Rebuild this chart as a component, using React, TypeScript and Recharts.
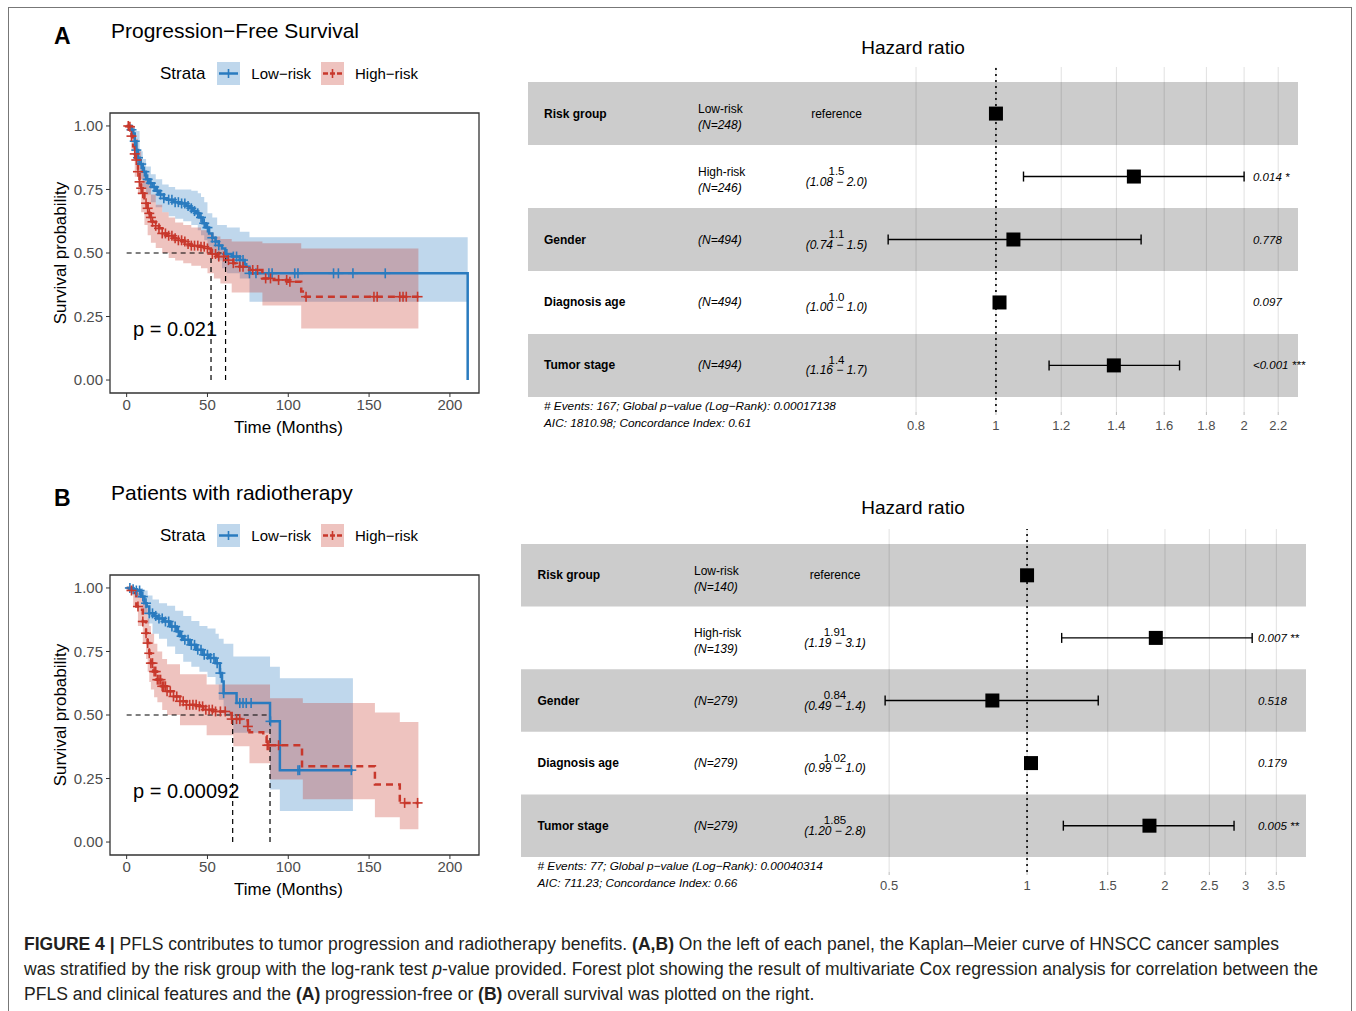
import React from "react";
import {
  ComposedChart,
  Line,
  Area,
  Scatter,
  XAxis,
  YAxis,
  ReferenceLine,
  ReferenceArea,
  ReferenceDot,
  ErrorBar,
} from "recharts";

const FONT = "'Liberation Sans', Arial, Helvetica, sans-serif";
const BLUE = "#2a7bbf";
const RED = "#c8382c";

// ---- Kaplan-Meier, panel A (progression-free survival) ----
// curves: [months, survival]
const pfsLow = [
  [0, 1], [3, 0.985], [4, 0.97], [5, 0.94], [6, 0.905], [7, 0.875], [8, 0.85], [10, 0.82],
  [12, 0.79], [14, 0.775], [16, 0.76], [18, 0.745], [20, 0.73], [23, 0.715], [25, 0.71],
  [29, 0.7], [33, 0.695], [37, 0.685], [39, 0.676], [41, 0.665], [43, 0.656], [45, 0.64],
  [47, 0.617], [49, 0.6], [51, 0.577], [53, 0.56], [55, 0.545], [57, 0.53], [59, 0.518],
  [61, 0.496], [65, 0.486], [70, 0.472], [73, 0.456], [74, 0.446], [76, 0.42], [211, 0],
];
const pfsHigh = [
  [0, 1], [2, 0.997], [3, 0.96], [4, 0.92], [5, 0.89], [6, 0.866], [7, 0.82], [8, 0.78],
  [9, 0.755], [10, 0.735], [11, 0.715], [12, 0.696], [13, 0.676], [14, 0.656], [15, 0.64],
  [16, 0.623], [18, 0.607], [20, 0.597], [22, 0.577], [25, 0.568], [29, 0.558], [32, 0.55],
  [35, 0.545], [38, 0.535], [40, 0.529], [45, 0.525], [50, 0.518], [52, 0.496], [56, 0.486],
  [62, 0.472], [66, 0.46], [70, 0.446], [76, 0.433], [84, 0.4], [91, 0.394], [100, 0.387],
  [108, 0.348], [109, 0.328], [180.5, 0.328],
];
// confidence bands: [months, lower, upper]
const pfsLowBand = [
  [0, 1, 1], [3, 0.95, 1], [5, 0.88, 0.98], [8, 0.79, 0.9], [10, 0.76, 0.87], [12, 0.73, 0.84],
  [15, 0.7, 0.81], [18, 0.68, 0.79], [22, 0.66, 0.77], [26, 0.645, 0.76], [30, 0.635, 0.75],
  [35, 0.625, 0.75], [40, 0.61, 0.745], [44, 0.59, 0.735], [46, 0.57, 0.72], [48, 0.55, 0.7],
  [50, 0.525, 0.656], [53, 0.5, 0.64], [56, 0.47, 0.61], [59, 0.44, 0.61], [62, 0.42, 0.6],
  [70, 0.4, 0.584], [76, 0.308, 0.562], [211, 0.308, 0.562],
];
const pfsHighBand = [
  [0, 1, 1], [3, 0.9, 1], [5, 0.8, 0.95], [7, 0.73, 0.9], [9, 0.66, 0.84], [11, 0.61, 0.8],
  [13, 0.57, 0.77], [15, 0.54, 0.73], [18, 0.52, 0.69], [22, 0.5, 0.66], [26, 0.48, 0.64],
  [30, 0.47, 0.62], [35, 0.46, 0.61], [40, 0.45, 0.6], [46, 0.44, 0.59], [50, 0.42, 0.58],
  [54, 0.4, 0.565], [58, 0.38, 0.555], [65, 0.345, 0.545], [84, 0.293, 0.538],
  [108, 0.203, 0.518], [180.5, 0.203, 0.518],
];
const pfsLowCensor = [
  3, 5, 6, 7, 9, 11, 13, 15, 17, 19, 21, 23, 26, 28, 30, 32, 34, 36, 38, 40, 42, 44, 46, 48,
  50, 53, 55, 57, 62, 66, 68, 70, 72, 76, 80, 88, 90, 104, 106, 128, 131, 140, 160,
];
const pfsHighCensor = [
  1, 2, 3, 5, 6, 7, 8, 9, 10, 12, 13, 14, 15, 16, 18, 20, 22, 24, 26, 28, 30, 32, 34, 36, 38,
  40, 42, 44, 46, 48, 50, 53, 55, 57, 60, 63, 66, 70, 72, 78, 81, 86, 89, 94, 99, 101, 111,
  153, 155, 169, 171, 173, 180,
];
const pfsMedians = [52.2, 61.2];

// ---- Kaplan-Meier, panel B (radiotherapy) ----
const rtLow = [
  [0, 1], [4, 0.995], [6, 0.99], [9, 0.966], [11, 0.94], [12.4, 0.927], [14, 0.9], [17, 0.89],
  [19, 0.88], [23, 0.868], [27, 0.848], [31, 0.829], [33, 0.81], [35, 0.796], [39, 0.776],
  [43, 0.757], [47, 0.737], [51, 0.724], [55, 0.704], [57.7, 0.665], [59, 0.632], [60, 0.586],
  [68, 0.547], [88.7, 0.475], [94.8, 0.283], [140, 0.283],
];
const rtHigh = [
  [0, 1], [3, 0.99], [4, 0.98], [6, 0.927], [8, 0.914], [10, 0.868], [12, 0.822], [13, 0.783],
  [14, 0.743], [15, 0.704], [16.5, 0.671], [18.6, 0.639], [21.6, 0.613], [24.7, 0.593],
  [29, 0.573], [33, 0.554], [37, 0.54], [45, 0.534], [47.4, 0.521], [53.6, 0.514],
  [62, 0.508], [65, 0.484], [72, 0.479], [75, 0.455], [76, 0.432], [84.5, 0.416],
  [86.6, 0.381], [108.5, 0.298], [153.6, 0.226], [169, 0.154], [180.5, 0.154],
];
const rtLowBand = [
  [0, 1, 1], [5, 0.96, 1], [10, 0.9, 0.99], [13, 0.86, 0.97], [16, 0.82, 0.955], [20, 0.8, 0.94],
  [25, 0.77, 0.93], [30, 0.74, 0.91], [35, 0.71, 0.89], [40, 0.69, 0.87], [45, 0.67, 0.85],
  [50, 0.65, 0.84], [55, 0.62, 0.82], [57, 0.56, 0.8], [60, 0.5, 0.78], [66, 0.43, 0.73],
  [88.7, 0.207, 0.69], [94.8, 0.122, 0.645], [140, 0.122, 0.645],
];
const rtHighBand = [
  [0, 1, 1], [4, 0.93, 1], [7, 0.85, 0.98], [10, 0.78, 0.95], [12, 0.72, 0.92], [13, 0.67, 0.88],
  [14, 0.63, 0.85], [15, 0.6, 0.82], [17, 0.57, 0.78], [19, 0.55, 0.75], [22, 0.52, 0.72],
  [25, 0.5, 0.7], [33, 0.46, 0.66], [49.5, 0.42, 0.62], [66, 0.377, 0.62], [76, 0.31, 0.62],
  [88.7, 0.246, 0.566], [109, 0.168, 0.547], [153.6, 0.098, 0.51], [169, 0.05, 0.472],
  [180.5, 0.05, 0.472],
];
const rtLowCensor = [
  2, 4, 6, 8, 10, 12, 14, 16, 18, 20, 22, 24, 26, 28, 30, 32, 34, 36, 38, 40, 42, 44, 46, 48,
  50, 52, 54, 56, 58, 60, 70, 72, 74, 77, 89, 106, 107, 139,
];
const rtHighCensor = [
  3, 7, 10, 12, 13, 14, 15, 16, 17, 18, 19, 20, 21, 22, 23, 24, 25, 27, 29, 31, 33, 35, 37, 39,
  41, 43, 45, 47, 49, 51, 53, 55, 58, 61, 65, 68, 70, 75, 87, 88, 94, 172, 180,
];
const rtMedians = [65.6, 88.7];

// ---- forest plots ----
const forestRows = [1, 2, 3, 4, 5];
const forestVars = ["Risk group", "", "Gender", "Diagnosis age", "Tumor stage"];
const forestGroups = ["Low-risk", "High-risk", "", "", ""];

const pfsN = ["(N=248)", "(N=246)", "(N=494)", "(N=494)", "(N=494)"];
const pfsHR = [1, 1.47, 1.05, 1.01, 1.39];
const pfsLower = [1, 1.08, 0.74, 1.0, 1.16];
const pfsUpper = [1, 2.0, 1.5, 1.02, 1.67];
const pfsEst = ["reference", "1.5", "1.1", "1.0", "1.4"];
const pfsCI = ["", "(1.08 − 2.0)", "(0.74 − 1.5)", "(1.00 − 1.0)", "(1.16 − 1.7)"];
const pfsP = ["", "0.014 *", "0.778", "0.097", "<0.001 ***"];
const pfsTicks = [0.8, 1, 1.2, 1.4, 1.6, 1.8, 2, 2.2];

const rtN = ["(N=140)", "(N=139)", "(N=279)", "(N=279)", "(N=279)"];
const rtHR = [1, 1.91, 0.84, 1.02, 1.85];
const rtLower = [1, 1.19, 0.49, 0.99, 1.2];
const rtUpper = [1, 3.1, 1.43, 1.04, 2.83];
const rtEst = ["reference", "1.91", "0.84", "1.02", "1.85"];
const rtCI = ["", "(1.19 − 3.1)", "(0.49 − 1.4)", "(0.99 − 1.0)", "(1.20 − 2.8)"];
const rtP = ["", "0.007 **", "0.518", "0.179", "0.005 **"];
const rtTicks = [0.5, 1, 1.5, 2, 2.5, 3, 3.5];

const lineData = (pts: number[][]) => pts.map(([t, s]) => ({ t, s }));
const bandData = (pts: number[][]) => pts.map(([t, lo, hi]) => ({ t, band: [lo, hi] }));
const stepValue = (pts: number[][], t: number) => {
  let v = pts[0][1];
  for (const p of pts) if (p[0] <= t) v = p[1];
  return v;
};
const censorData = (pts: number[][], times: number[]) =>
  times.map((t) => ({ t, s: stepValue(pts, t) }));

const Cross = (props: any) => {
  const { cx, cy, fill } = props;
  return (
    <g stroke={fill} strokeWidth={1.6}>
      <line x1={cx - 5} x2={cx + 5} y1={cy} y2={cy} />
      <line x1={cx} x2={cx} y1={cy - 5} y2={cy + 5} />
    </g>
  );
};

const LegendKey = ({ color, dashed }: { color: string; dashed?: boolean }) => (
  <svg width={23} height={23} style={{ display: "block" }}>
    <rect x={0} y={0} width={23} height={23} fill={color} fillOpacity={0.3} />
    <line x1={2} x2={21} y1={11.5} y2={11.5} stroke={color} strokeWidth={2.5} strokeDasharray={dashed ? "5 2" : undefined} />
    <line x1={11.5} x2={11.5} y1={7} y2={16} stroke={color} strokeWidth={1.6} />
  </svg>
);

const X_DOMAIN = [-10.3, 218];
const Y_DOMAIN = [-0.051, 1.051];

function KMPanel(props: any) {
  const { top, letter, title, low, high, lowBand, highBand, lowCensor, highCensor, medians, pText } = props;
  const medMax = Math.max(...medians);
  return (
    <div style={{ position: "absolute", left: 0, top, width: 510, height: 450 }}>
      <div style={{ position: "absolute", left: 54, top: 22, fontSize: 23, fontWeight: "bold", lineHeight: "28px" }}>
        {letter}
      </div>
      <div style={{ position: "absolute", left: 111, top: 18, fontSize: 21, lineHeight: "26px" }}>{title}</div>
      <div style={{ position: "absolute", left: 160, top: 62, height: 23, display: "flex", alignItems: "center", fontSize: 15 }}>
        <span style={{ fontSize: 17, marginRight: 12 }}>Strata</span>
        <LegendKey color={BLUE} />
        <span style={{ marginLeft: 11, marginRight: 10 }}>Low−risk</span>
        <LegendKey color={RED} dashed />
        <span style={{ marginLeft: 11 }}>High−risk</span>
      </div>
      <div style={{ position: "absolute", left: 40, top: 100 }}>
        <ComposedChart width={450} height={340} margin={{ top: 13, right: 11, bottom: 0, left: 0 }}>
          <XAxis
            dataKey="t"
            type="number"
            domain={X_DOMAIN}
            allowDataOverflow
            ticks={[0, 50, 100, 150, 200]}
            tickSize={4}
            tickMargin={2}
            axisLine={false}
            tickLine={{ stroke: "#333" }}
            tick={{ fontSize: 15, fill: "#4d4d4d" }}
            height={47}
            label={{ value: "Time (Months)", position: "insideBottom", offset: 7, dx: -6, fontSize: 17, fill: "#000" }}
          />
          <YAxis
            dataKey="s"
            type="number"
            domain={Y_DOMAIN}
            allowDataOverflow
            ticks={[0, 0.25, 0.5, 0.75, 1]}
            tickFormatter={(v: number) => v.toFixed(2)}
            width={70}
            tickSize={4}
            tickMargin={3}
            axisLine={false}
            tickLine={{ stroke: "#333" }}
            tick={{ fontSize: 15, fill: "#4d4d4d" }}
            label={{
              value: "Survival probability",
              angle: -90,
              position: "insideLeft",
              offset: 20,
              fontSize: 17,
              fill: "#000",
              style: { textAnchor: "middle" },
            }}
          />
          <Area data={bandData(lowBand)} dataKey="band" type="stepAfter" stroke="none" fill={BLUE} fillOpacity={0.3} isAnimationActive={false} />
          <Area data={bandData(highBand)} dataKey="band" type="stepAfter" stroke="none" fill={RED} fillOpacity={0.3} isAnimationActive={false} />
          <ReferenceLine segment={[{ x: 0, y: 0.5 }, { x: medMax, y: 0.5 }]} stroke="#000" strokeDasharray="5 4" strokeWidth={1.2} />
          {medians.map((m: number) => (
            <ReferenceLine key={m} segment={[{ x: m, y: 0 }, { x: m, y: 0.5 }]} stroke="#000" strokeDasharray="5 4" strokeWidth={1.2} />
          ))}
          <Line data={lineData(low)} dataKey="s" type="stepAfter" stroke={BLUE} strokeWidth={2.5} dot={false} isAnimationActive={false} />
          <Line data={lineData(high)} dataKey="s" type="stepAfter" stroke={RED} strokeWidth={2.5} strokeDasharray="7 5" dot={false} isAnimationActive={false} />
          <Scatter data={censorData(low, lowCensor)} fill={BLUE} shape={Cross} isAnimationActive={false} />
          <Scatter data={censorData(high, highCensor)} fill={RED} shape={Cross} isAnimationActive={false} />
          <ReferenceDot x={4} y={0.2} r={0} fill="none" stroke="none" label={{ value: pText, position: "right", offset: 0, fontSize: 20, fill: "#000" }} />
          <ReferenceArea x1={X_DOMAIN[0]} x2={X_DOMAIN[1]} y1={Y_DOMAIN[0]} y2={Y_DOMAIN[1]} fill="none" stroke="#333" strokeWidth={1.3} ifOverflow="visible" />
        </ComposedChart>
      </div>
    </div>
  );
}

function ForestPanel(props: any) {
  const { left, top, width, margin, domain, ticks, n, hr, lower, upper, est, ci, pv, cols, footnote } = props;
  const points = hr.map((h: number, i: number) => ({ hr: h, row: forestRows[i], err: [h - lower[i], upper[i] - h] }));
  const refPts = points.filter((_: any, i: number) => est[i] === "reference");
  const ciPts = points.filter((_: any, i: number) => est[i] !== "reference");
  const Square = (p: any) => <rect x={p.cx - 7} y={p.cy - 7} width={14} height={14} fill="#000" />;

  // table text of one row, placed on the row's y from the axis scale
  const rowLabel = (i: number) => (lp: any) => {
    const y = lp.viewBox ? lp.viewBox.y : 0;
    return (
      <g fontFamily={FONT} fontSize={12} fill="#000">
        {forestVars[i] && (
          <text x={cols[0]} y={y} dominantBaseline="central" fontWeight="bold">{forestVars[i]}</text>
        )}
        {forestGroups[i] ? (
          <>
            <text x={cols[1]} y={y - 4.5} dominantBaseline="central">{forestGroups[i]}</text>
            <text x={cols[1]} y={y + 11.5} dominantBaseline="central" fontStyle="italic">{n[i]}</text>
          </>
        ) : (
          <text x={cols[1]} y={y} dominantBaseline="central" fontStyle="italic">{n[i]}</text>
        )}
        {est[i] === "reference" ? (
          <text x={cols[2]} y={y} dominantBaseline="central" textAnchor="middle">reference</text>
        ) : (
          <>
            <text x={cols[2]} y={y - 5.5} dominantBaseline="central" textAnchor="middle" fontSize={11.5}>{est[i]}</text>
            <text x={cols[2]} y={y + 5} dominantBaseline="central" textAnchor="middle" fontStyle="italic">{ci[i]}</text>
          </>
        )}
        {pv[i] && (
          <text x={cols[3]} y={y} dominantBaseline="central" fontStyle="italic" fontSize={11.5}>{pv[i]}</text>
        )}
      </g>
    );
  };

  return (
    <div style={{ position: "absolute", left, top, width, height: 380 }}>
      <div style={{ position: "absolute", left: 913 - left - 60, width: 120, top: -24, textAlign: "center", fontSize: 19, lineHeight: "24px" }}>
        Hazard ratio
      </div>
      <ComposedChart width={width} height={380} margin={margin}>
        <XAxis
          dataKey="hr"
          type="number"
          scale="log"
          domain={domain}
          allowDataOverflow
          ticks={ticks}
          tickFormatter={(v: number) => String(v)}
          axisLine={false}
          tickSize={3}
          tickMargin={6}
          tickLine={{ stroke: "#bbb" }}
          tick={{ fontSize: 13, fill: "#4d4d4d" }}
          height={28}
        />
        <YAxis dataKey="row" type="number" domain={[0.26, 5.74]} reversed allowDataOverflow hide />
        {[1, 3, 5].map((r) => (
          <ReferenceArea key={r} x1={domain[0]} x2={domain[1]} y1={r - 0.5} y2={r + 0.5} fill="#cccccc" fillOpacity={1} stroke="none" ifOverflow="visible" />
        ))}
        {ticks.map((t: number) => (
          <ReferenceLine key={t} x={t} stroke="#000" strokeOpacity={0.12} strokeWidth={1} />
        ))}
        {forestRows.map((r, i) => (
          <ReferenceLine key={"row" + r} y={r} stroke="none" label={rowLabel(i)} />
        ))}
        <ReferenceLine x={1} stroke="#000" strokeDasharray="2 4" strokeWidth={1.6} />
        <Scatter data={ciPts} shape={Square} isAnimationActive={false}>
          <ErrorBar dataKey="err" direction="x" width={5} stroke="#000" strokeWidth={1.4} />
        </Scatter>
        <Scatter data={refPts} shape={Square} isAnimationActive={false} />
      </ComposedChart>
      <div style={{ position: "absolute", left: cols[0], top: 338, fontSize: 11.8, fontStyle: "italic", lineHeight: "16.5px", whiteSpace: "nowrap" }}>
        <div>{footnote[0]}</div>
        <div>{footnote[1]}</div>
      </div>
    </div>
  );
}

export default function App() {
  return (
    <div style={{ position: "absolute", left: 0, top: 0, width: 1356, height: 1011, background: "#fff", overflow: "hidden", fontFamily: FONT, color: "#000" }}>
      <div style={{ position: "absolute", left: 8, top: 7, width: 1344, height: 1010, border: "1px solid #777", boxSizing: "border-box" }} />
      <KMPanel
        top={0}
        letter="A"
        title="Progression−Free Survival"
        low={pfsLow}
        high={pfsHigh}
        lowBand={pfsLowBand}
        highBand={pfsHighBand}
        lowCensor={pfsLowCensor}
        highCensor={pfsHighCensor}
        medians={pfsMedians}
        pText="p = 0.021"
      />
      <KMPanel
        top={462}
        letter="B"
        title="Patients with radiotherapy"
        low={rtLow}
        high={rtHigh}
        lowBand={rtLowBand}
        highBand={rtHighBand}
        lowCensor={rtLowCensor}
        highCensor={rtHighCensor}
        medians={rtMedians}
        pText="p = 0.00092"
      />
      <ForestPanel
        left={520}
        top={60}
        width={810}
        margin={{ top: 7, right: 32, bottom: 0, left: 8 }}
        domain={[0.2706, 2.325]}
        ticks={pfsTicks}
        n={pfsN}
        hr={pfsHR}
        lower={pfsLower}
        upper={pfsUpper}
        est={pfsEst}
        ci={pfsCI}
        pv={pfsP}
        cols={[24, 178, 316.5, 733]}
        footnote={["# Events: 167; Global p−value (Log−Rank): 0.00017138", "AIC: 1810.98; Concordance Index: 0.61"]}
      />
      <ForestPanel
        left={513}
        top={520}
        width={820}
        margin={{ top: 9, right: 27, bottom: 0, left: 8 }}
        domain={[0.0786, 4.063]}
        ticks={rtTicks}
        n={rtN}
        hr={rtHR}
        lower={rtLower}
        upper={rtUpper}
        est={rtEst}
        ci={rtCI}
        pv={rtP}
        cols={[24.5, 181, 322, 745]}
        footnote={["# Events: 77; Global p−value (Log−Rank): 0.00040314", "AIC: 711.23; Concordance Index: 0.66"]}
      />
      <div style={{ position: "absolute", left: 24, top: 932, fontSize: 17.55, lineHeight: "25px", whiteSpace: "nowrap", color: "#231f20" }}>
        <div>
          <b>FIGURE 4 |</b> PFLS contributes to tumor progression and radiotherapy benefits. <b>(A,B)</b> On the left of each panel, the Kaplan–Meier curve of HNSCC cancer samples
        </div>
        <div>
          was stratified by the risk group with the log-rank test <i>p</i>-value provided. Forest plot showing the result of multivariate Cox regression analysis for correlation between the
        </div>
        <div>
          PFLS and clinical features and the <b>(A)</b> progression-free or <b>(B)</b> overall survival was plotted on the right.
        </div>
      </div>
    </div>
  );
}
